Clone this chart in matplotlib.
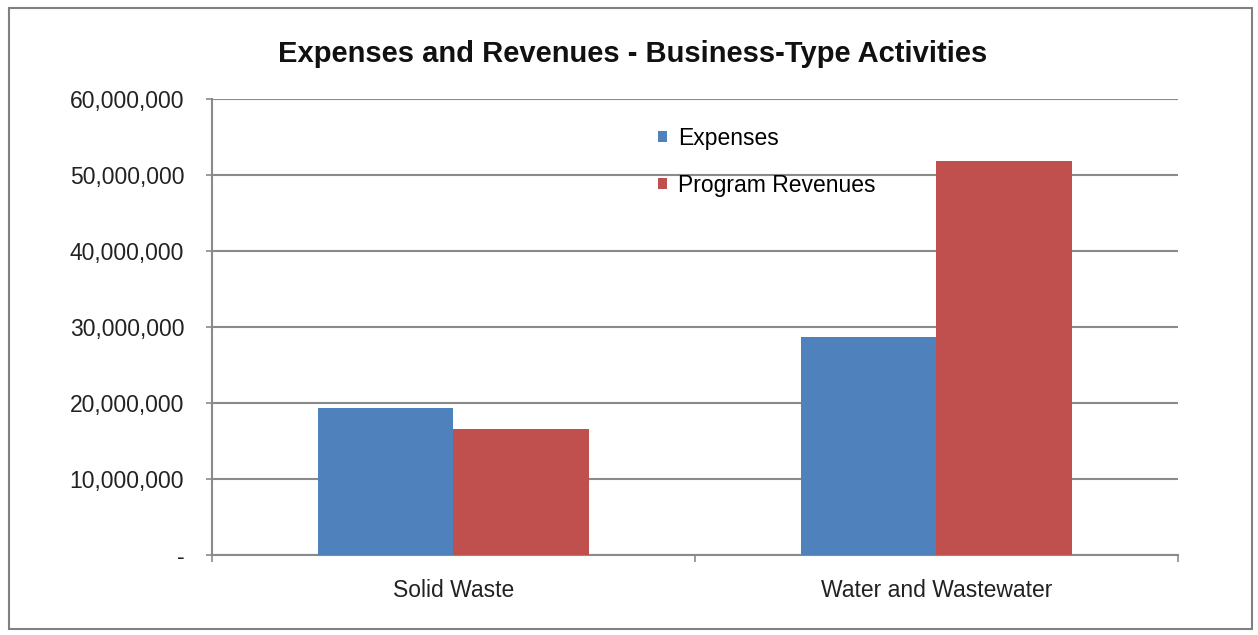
import numpy as np
import matplotlib.pyplot as plt
from matplotlib.patches import Rectangle
from matplotlib.ticker import FuncFormatter

plt.rcParams['font.family'] = ['Liberation Sans', 'DejaVu Sans']

# Data
categories = ['Solid Waste', 'Water and Wastewater']
expenses = [19400000, 28700000]
revenues = [16600000, 51900000]
series_names = ['Expenses', 'Program Revenues']
yticks = [0, 10000000, 20000000, 30000000, 40000000, 50000000, 60000000]

blue = '#4F81BD'
red = '#C0504D'
grid_col = '#8a8a8a'

fig = plt.figure(figsize=(12.58, 6.35), dpi=100)
ax = fig.add_axes([0.1685, 0.126, 0.7679, 0.718])

x = np.arange(len(categories))
w = 0.28
ax.bar(x - w / 2, expenses, w, color=blue, label=series_names[0], zorder=3)
ax.bar(x + w / 2, revenues, w, color=red, label=series_names[1], zorder=3)

ax.set_xlim(-0.5, 1.5)
ax.set_ylim(0, 60000000)
ax.set_yticks(yticks)
ax.yaxis.set_major_formatter(FuncFormatter(lambda v, p: '-' if v == 0 else '{:,.0f}'.format(v)))
ax.grid(axis='y', color=grid_col, linewidth=1.5, zorder=0)

ax.set_xticks(x)
ax.set_xticklabels(categories)
ax.set_xticks([-0.5, 0.5, 1.5], minor=True)
ax.tick_params(axis='x', which='major', length=0, pad=17, labelsize=16.5, colors='#222222')
ax.tick_params(axis='x', which='minor', length=5, width=1.2, color=grid_col)
ax.tick_params(axis='y', length=4, width=1.2, color=grid_col, labelsize=16.5, labelcolor='#222222', pad=16)

for s in ['top', 'right']:
    ax.spines[s].set_visible(False)
for s in ['left', 'bottom']:
    ax.spines[s].set_color(grid_col)
    ax.spines[s].set_linewidth(1.5)

leg = ax.legend(loc='upper left', bbox_to_anchor=(0.44, 0.985), frameon=False,
                fontsize=16.5, handlelength=0.4, handleheight=0.4, labelspacing=1.05,
                handletextpad=0.5)

fig.text(0.503, 0.915, 'Expenses and Revenues - Business-Type Activities',
         ha='center', va='center', fontsize=21, fontweight='bold', color='#111111')

fig.patches.append(Rectangle((0.007, 0.01), 0.988, 0.978, transform=fig.transFigure,
                             fill=False, edgecolor='#808080', linewidth=1.5))

fig.savefig('out.png', dpi=100)
